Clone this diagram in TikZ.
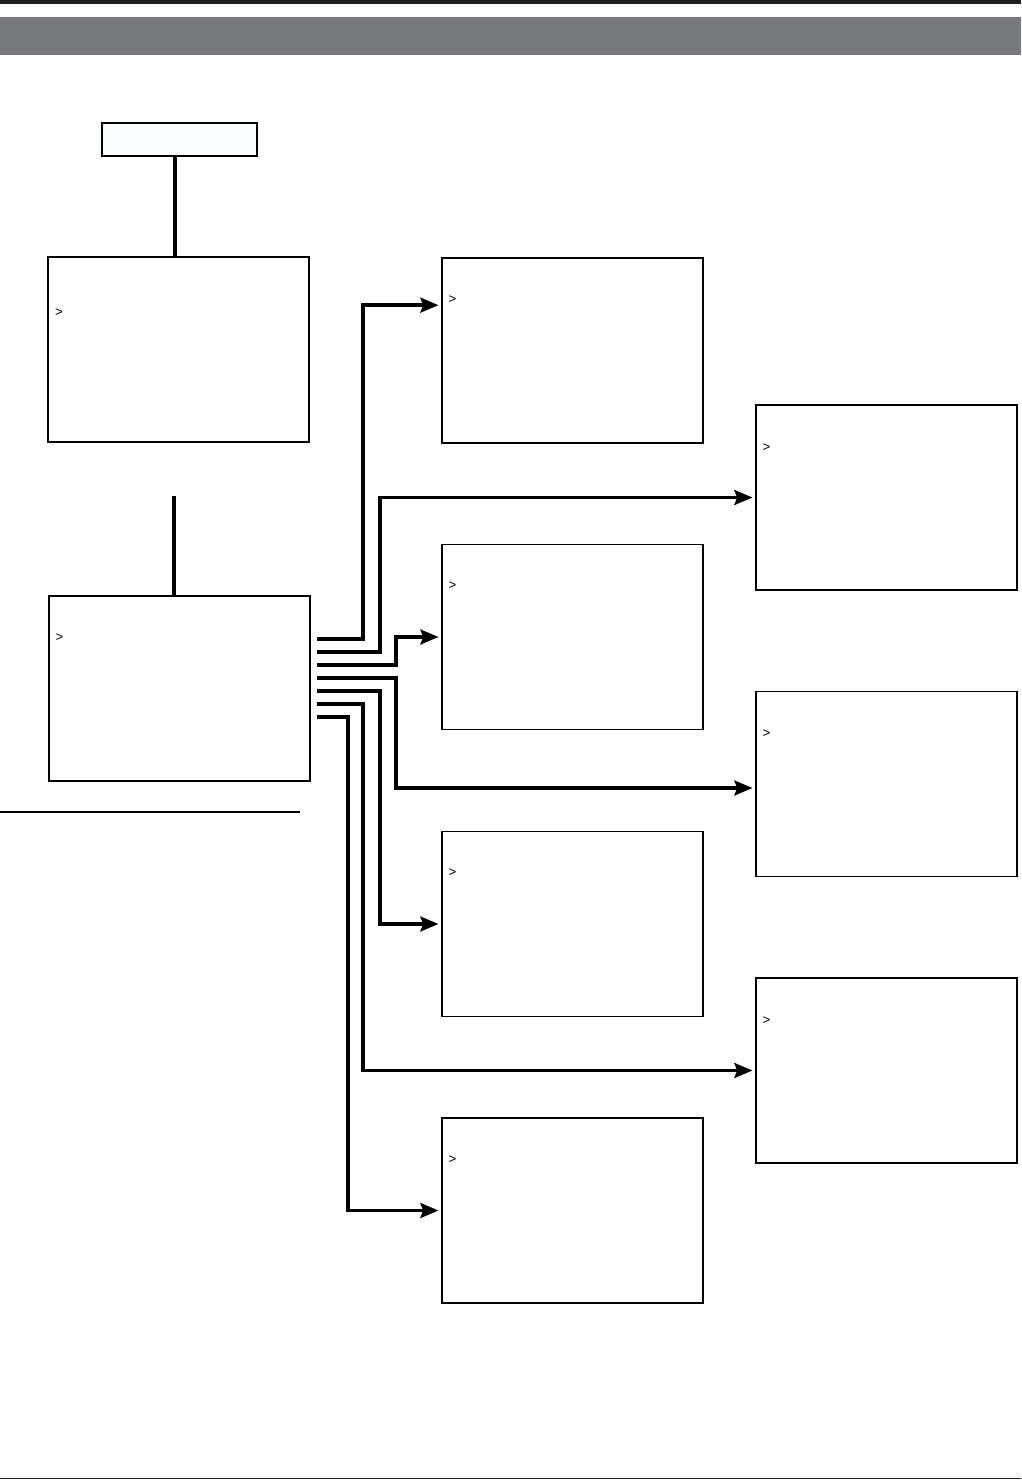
\documentclass[tikz,border=0pt]{standalone}
\usepackage{fontspec}
\setmainfont{Liberation Sans}
\usetikzlibrary{arrows.meta}

\definecolor{bandgrey}{HTML}{77797D}
\definecolor{barblack}{HTML}{1F1F21}
\definecolor{paleblue}{HTML}{F8FCFD}

\begin{document}
\begin{tikzpicture}[x=0.75pt,y=-0.75pt,>={Stealth[length=13.5pt,width=11pt,inset=2pt]},
    menubox/.style={draw,line width=0.8pt,fill=white,minimum width=195.75pt,minimum height=138.75pt,inner sep=0pt},
    titlebox/.style={draw,line width=0.8pt,fill=paleblue,minimum width=116.25pt,minimum height=24.75pt,inner sep=0pt},
    cursor/.style={anchor=west,inner sep=0pt,font=\fontsize{10}{12}\selectfont},
    stem/.style={line width=2.5pt},
    route/.style={line width=2.9pt,->,shorten >=2.2pt}]

% ============================================
% PAGE FRAME
% ============================================
        \useasboundingbox (0,0) rectangle (1021,1480);
        \fill[barblack] (0,0) rectangle (1021,4);
        \fill[bandgrey] (0,17) rectangle (1021,55.5);
        \draw[barblack,line width=0.9pt] (0,1478.5) -- (1021,1478.5);

% ============================================
% LEFT COLUMN
% ============================================
        % Boxes
        \node[titlebox] (start) at (179.5,139.5) {};
        \node[menubox] (menuA) at (178.5,349.5) {};
        \node[menubox] (menuB) at (179.5,688.5) {};
        % Cursors
        \node[cursor] (curA) at ([xshift=5.5pt,yshift=-42pt]menuA.north west) {>};
        \node[cursor] (curB) at ([xshift=5.2pt,yshift=-31.5pt]menuB.north west) {>};
        % Stems
        \draw[stem] ([xshift=-3.4pt]start.south) -- ([xshift=-3.4pt]start.south |- menuA.north);
        \coordinate (gap) at (174,496);
        \draw[stem] (gap) -- (gap |- menuB.north);
        % Rule under the left column
        \coordinate (ruleL) at (0,812);
        \coordinate (ruleR) at (300,812);
        \draw[line width=1.1pt] (ruleL) -- (ruleR);

% ============================================
% MIDDLE COLUMN
% ============================================
        \node[menubox] (subA) at (572.5,350.5) {};
        \node[menubox] (subB) at (572.5,637) {};
        \node[menubox] (subC) at (572.5,924) {};
        \node[menubox] (subD) at (572.5,1210.5) {};
        \node[cursor] (curSA) at ([xshift=5.2pt,yshift=-31.5pt]subA.north west) {>};
        \node[cursor] (curSB) at ([xshift=5.2pt,yshift=-31.5pt]subB.north west) {>};
        \node[cursor] (curSC) at ([xshift=5.2pt,yshift=-31.5pt]subC.north west) {>};
        \node[cursor] (curSD) at ([xshift=5.2pt,yshift=-31.5pt]subD.north west) {>};

% ============================================
% RIGHT COLUMN
% ============================================
        \node[menubox] (subE) at (886.5,497.5) {};
        \node[menubox] (subF) at (886.5,784) {};
        \node[menubox] (subG) at (886.5,1070.5) {};
        \node[cursor] (curSE) at ([xshift=5.2pt,yshift=-32pt]subE.north west) {>};
        \node[cursor] (curSF) at ([xshift=5.2pt,yshift=-32pt]subF.north west) {>};
        \node[cursor] (curSG) at ([xshift=5.2pt,yshift=-32pt]subG.north west) {>};

% ============================================
% ROUTES FROM THE MENU
% ============================================
        % Start points, right of the menu box
        \coordinate (s1) at (317,639);
        \coordinate (s2) at (317,652);
        \coordinate (s3) at (317,665);
        \coordinate (s4) at (317,678);
        \coordinate (s5) at (317,691);
        \coordinate (s6) at (317,704);
        \coordinate (s7) at (317,717);
        % Arrows
        \draw[route] (s1) -- ++(46,0) |- ([yshift=34pt]subA.west);
        \draw[route] (s2) -- ++(63,0) |- (subE.west);
        \draw[route] (s3) -- ++(79,0) |- (subB.west);
        \draw[route] (s4) -- ++(79,0) |- ([yshift=-3pt]subF.west);
        \draw[route] (s5) -- ++(63,0) |- (subC.west);
        \draw[route] (s6) -- ++(46,0) |- (subG.west);
        \draw[route] (s7) -- ++(31,0) |- (subD.west);
\end{tikzpicture}
\end{document}
